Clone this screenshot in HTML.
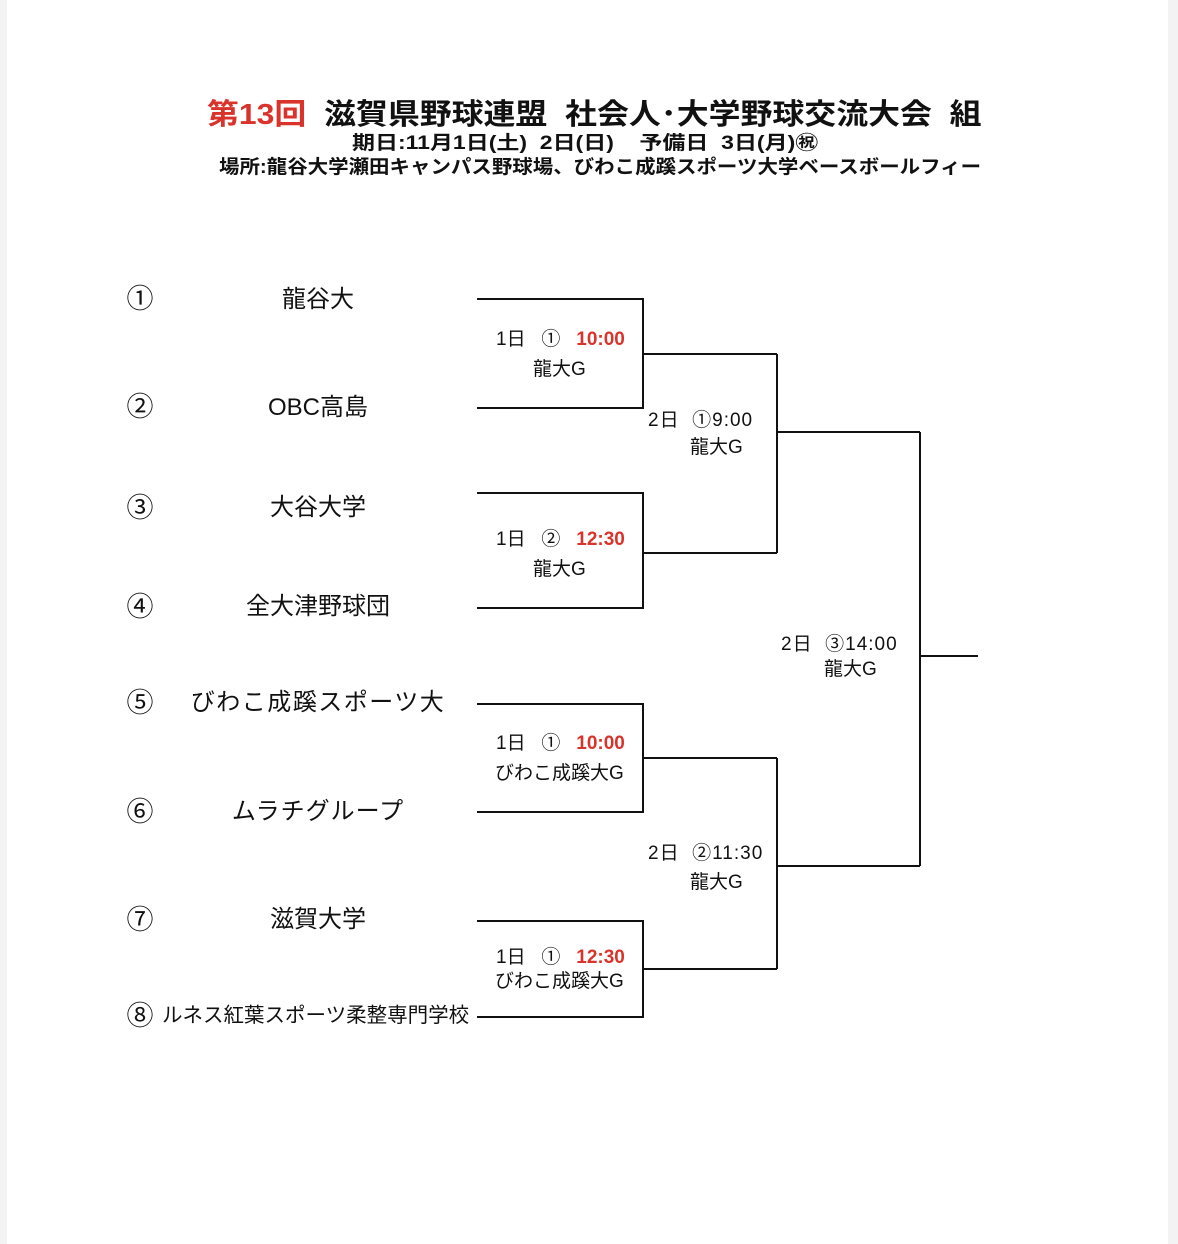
<!DOCTYPE html>
<html><head><meta charset="utf-8"><style>
html,body{margin:0;padding:0;}
body{width:1178px;height:1244px;position:relative;background:#fff;overflow:hidden;font-family:"Liberation Sans","Noto Sans CJK JP",sans-serif;color:#111;}
.edgeL{position:absolute;left:0;top:0;width:7px;height:1244px;background:#f3f3f3;}
.edgeR{position:absolute;right:0;top:0;width:10px;height:1244px;background:#f3f3f3;}
.t{position:absolute;white-space:nowrap;line-height:1;}
.c{transform:translateX(-50%);}
.red{color:#d9342b;font-weight:bold;}
.num{font-size:27px;}
.team{font-size:24px;}
.lab{font-size:19px;}
.w{letter-spacing:1px;}
</style></head><body>
<div class="edgeL"></div><div class="edgeR"></div>
<div class="t" style="left:207px;top:101px;font-size:29px;font-weight:bold;transform-origin:0 0;transform:scaleX(1.1);"><span class="red">第13回</span>&nbsp;&nbsp;滋賀県野球連盟&nbsp;&nbsp;社会人･大学野球交流大会&nbsp;&nbsp;組</div>
<div class="t" style="left:352px;top:134px;font-size:19px;font-weight:bold;transform-origin:0 0;transform:scaleX(1.21);">期日:11月1日(土)&nbsp;&nbsp;2日(日)&nbsp;&nbsp;&nbsp;&nbsp;予備日&nbsp;&nbsp;3日(月)㊗</div>
<div class="t" style="left:219px;top:158px;font-size:19px;font-weight:bold;transform-origin:0 0;transform:scaleX(1.077);">場所:龍谷大学瀬田キャンパス野球場、びわこ成蹊スポーツ大学ベースボールフィー</div>

<svg style="position:absolute;left:0;top:0" width="1178" height="1244">
<g stroke="#111" stroke-width="2" fill="none">
<polyline points="477,299 643,299 643,408 477,408"/>
<line x1="643" y1="354" x2="777" y2="354"/>
<polyline points="477,493 643,493 643,608 477,608"/>
<line x1="643" y1="553" x2="777" y2="553"/>
<line x1="777" y1="354" x2="777" y2="553"/>
<line x1="777" y1="432" x2="920" y2="432"/>
<polyline points="477,704 643,704 643,812 477,812"/>
<line x1="643" y1="758" x2="777" y2="758"/>
<polyline points="477,921 643,921 643,1017 477,1017"/>
<line x1="643" y1="969" x2="777" y2="969"/>
<line x1="777" y1="758" x2="777" y2="969"/>
<line x1="777" y1="866" x2="920" y2="866"/>
<line x1="920" y1="432" x2="920" y2="866"/>
<line x1="920" y1="656" x2="978" y2="656"/>
</g></svg>

<div class="t num c" style="left:140px;top:286px;">①</div>
<div class="t num c" style="left:140px;top:394px;">②</div>
<div class="t num c" style="left:140px;top:495px;">③</div>
<div class="t num c" style="left:140px;top:594px;">④</div>
<div class="t num c" style="left:140px;top:690px;">⑤</div>
<div class="t num c" style="left:140px;top:799px;">⑥</div>
<div class="t num c" style="left:140px;top:907px;">⑦</div>
<div class="t num c" style="left:140px;top:1003px;">⑧</div>

<div class="t team c" style="left:318px;top:288px;">龍谷大</div>
<div class="t team c" style="left:318px;top:396px;">OBC高島</div>
<div class="t team c" style="left:318px;top:496px;">大谷大学</div>
<div class="t team c" style="left:318px;top:595px;">全大津野球団</div>
<div class="t team c" style="left:318px;top:691px;letter-spacing:1.5px;">びわこ成蹊スポーツ大</div>
<div class="t team c" style="left:318px;top:800px;letter-spacing:1px;">ムラチグループ</div>
<div class="t team c" style="left:318px;top:908px;">滋賀大学</div>
<div class="t" style="left:162px;top:1006px;font-size:20.5px;">ルネス紅葉スポーツ柔整専門学校</div>

<div class="t lab" style="left:496px;top:330px;">1日&nbsp;&nbsp;&nbsp;①&nbsp;&nbsp;&nbsp;<span class="red">10:00</span></div>
<div class="t lab" style="left:533px;top:360px;">龍大G</div>
<div class="t lab" style="left:496px;top:530px;">1日&nbsp;&nbsp;&nbsp;②&nbsp;&nbsp;&nbsp;<span class="red">12:30</span></div>
<div class="t lab" style="left:533px;top:560px;">龍大G</div>
<div class="t lab" style="left:496px;top:734px;">1日&nbsp;&nbsp;&nbsp;①&nbsp;&nbsp;&nbsp;<span class="red">10:00</span></div>
<div class="t lab" style="left:495px;top:764px;">びわこ成蹊大G</div>
<div class="t lab" style="left:496px;top:948px;">1日&nbsp;&nbsp;&nbsp;①&nbsp;&nbsp;&nbsp;<span class="red">12:30</span></div>
<div class="t lab" style="left:495px;top:972px;">びわこ成蹊大G</div>

<div class="t lab w" style="left:648px;top:411px;">2日&nbsp;&nbsp;①9:00</div>
<div class="t lab" style="left:690px;top:438px;">龍大G</div>
<div class="t lab w" style="left:648px;top:844px;">2日&nbsp;&nbsp;②11:30</div>
<div class="t lab" style="left:690px;top:873px;">龍大G</div>
<div class="t lab w" style="left:781px;top:635px;">2日&nbsp;&nbsp;③14:00</div>
<div class="t lab" style="left:824px;top:660px;">龍大G</div>
</body></html>
